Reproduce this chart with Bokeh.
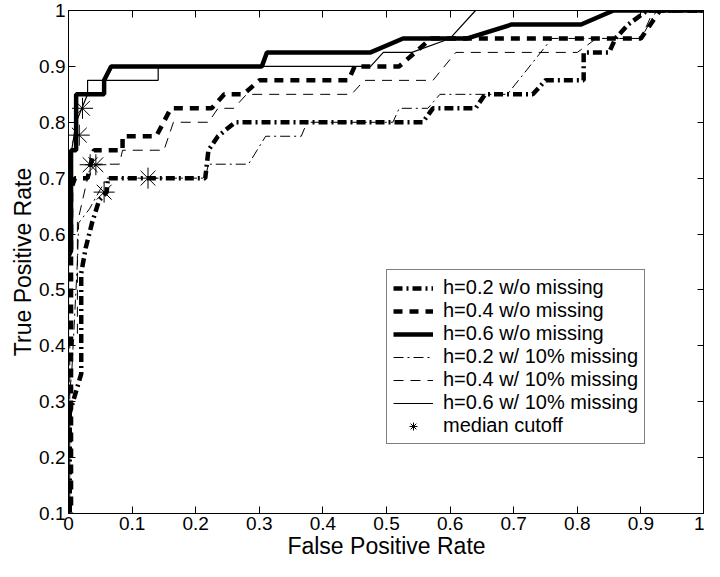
from bokeh.plotting import figure
from bokeh.models import Range1d, FixedTicker, LinearAxis, Legend, LegendItem
from bokeh.embed import file_html
from bokeh.resources import INLINE

# ---- data ----
X_TICKS = [0, 0.1, 0.2, 0.3, 0.4, 0.5, 0.6, 0.7, 0.8, 0.9, 1]
X_LABELS = ["0", "0.1", "0.2", "0.3", "0.4", "0.5", "0.6", "0.7", "0.8", "0.9", "1"]
Y_TICKS = [0.1, 0.2, 0.3, 0.4, 0.5, 0.6, 0.7, 0.8, 0.9, 1]
Y_LABELS = ["0.1", "0.2", "0.3", "0.4", "0.5", "0.6", "0.7", "0.8", "0.9", "1"]

h02_wo_fpr = [0.002, 0.002, 0.02, 0.02, 0.027, 0.037, 0.048, 0.06, 0.062, 0.215, 0.22, 0.235, 0.262,
              0.557, 0.573, 0.64, 0.655, 0.73, 0.75, 0.81, 0.81, 0.85, 0.86, 0.88, 0.91, 1.0]
h02_wo_tpr = [0.0, 0.28, 0.35, 0.53, 0.575, 0.62, 0.66, 0.675, 0.7, 0.7, 0.75, 0.775, 0.8,
              0.8, 0.825, 0.825, 0.85, 0.85, 0.875, 0.875, 0.925, 0.925, 0.95, 0.975, 1.0, 1.0]

h04_wo_fpr = [0.004, 0.004, 0.01, 0.03, 0.04, 0.085, 0.085, 0.138, 0.161, 0.225, 0.245, 0.275, 0.30,
              0.44, 0.45, 0.52, 0.57, 0.90, 0.93, 1.0]
h04_wo_tpr = [0.0, 0.68, 0.7, 0.7, 0.75, 0.75, 0.775, 0.775, 0.825, 0.825, 0.85, 0.85, 0.875,
              0.875, 0.9, 0.9, 0.95, 0.95, 1.0, 1.0]

h06_wo_fpr = [0.0, 0.004, 0.004, 0.012, 0.012, 0.056, 0.056, 0.067, 0.304, 0.312, 0.475, 0.526,
              0.627, 0.697, 0.806, 0.857, 1.0]
h06_wo_tpr = [0.56, 0.57, 0.75, 0.75, 0.85, 0.85, 0.875, 0.9, 0.9, 0.925, 0.925, 0.95,
              0.95, 0.975, 0.975, 1.0, 1.0]

h02_w_fpr = [0.0, 0.0, 0.005, 0.014, 0.016, 0.033, 0.05, 0.06, 0.215, 0.22, 0.283, 0.31, 0.366,
             0.375, 0.51, 0.52, 0.565, 0.584, 0.69, 0.76, 0.90, 0.925, 1.0]
h02_w_tpr = [0.0, 0.3, 0.35, 0.55, 0.62, 0.645, 0.68, 0.7, 0.7, 0.725, 0.725, 0.775, 0.775,
             0.8, 0.8, 0.825, 0.825, 0.85, 0.85, 0.95, 0.95, 1.0, 1.0]

h04_w_fpr = [0.002, 0.002, 0.014, 0.014, 0.03, 0.043, 0.08, 0.085, 0.15, 0.165, 0.22, 0.235, 0.26,
             0.28, 0.445, 0.465, 0.573, 0.609, 0.80, 0.83, 0.90, 0.92, 1.0]
h04_w_tpr = [0.0, 0.4, 0.42, 0.62, 0.7, 0.725, 0.725, 0.75, 0.75, 0.8, 0.8, 0.825, 0.825,
             0.85, 0.85, 0.875, 0.875, 0.925, 0.925, 0.95, 0.95, 1.0, 1.0]

h06_w_fpr = [0.0, 0.0, 0.005, 0.012, 0.03, 0.03, 0.141, 0.141, 0.475, 0.495, 0.54, 0.60, 0.64, 1.0]
h06_w_tpr = [0.0, 0.57, 0.75, 0.80, 0.85, 0.875, 0.875, 0.9, 0.9, 0.925, 0.925, 0.95, 1.0, 1.0]

median_fpr = [0.017, 0.022, 0.034, 0.043, 0.056, 0.125]
median_tpr = [0.777, 0.825, 0.724, 0.724, 0.675, 0.70]

FONT = "Liberation Sans"

p = figure(width=704, height=561, x_range=Range1d(0, 1), y_range=Range1d(0.1, 1),
           output_backend="svg", toolbar_location=None,
           min_border_left=68, min_border_right=0, min_border_top=10, min_border_bottom=48)
p.grid.visible = False
p.outline_line_color = "black"
p.outline_line_width = 1
p.background_fill_color = "white"
p.border_fill_color = "white"

def style_axis(ax, ticks, labels, show_labels=True):
    ax.ticker = FixedTicker(ticks=ticks)
    ax.major_label_overrides = {t: l for t, l in zip(ticks, labels)}
    ax.major_tick_in = 7
    ax.major_tick_out = 0
    ax.minor_tick_line_color = None
    ax.axis_line_color = "black"
    ax.major_tick_line_color = "black"
    if show_labels:
        ax.major_label_text_font = FONT
        ax.major_label_text_font_size = "19px"
        ax.major_label_text_color = "black"
        ax.major_label_standoff = 3
        ax.axis_label_text_font = FONT
        ax.axis_label_text_font_size = "23px"
        ax.axis_label_text_font_style = "normal"
        ax.axis_label_text_color = "black"
        ax.axis_label_standoff = 0
    else:
        ax.major_label_text_font_size = "0px"
        ax.major_label_standoff = 0

style_axis(p.xaxis[0], X_TICKS, X_LABELS)
style_axis(p.yaxis[0], Y_TICKS, Y_LABELS)
p.xaxis.axis_label = "False Positive Rate"
p.yaxis.axis_label = "True Positive Rate"

top = LinearAxis()
style_axis(top, X_TICKS, X_LABELS, show_labels=False)
p.add_layout(top, "above")
right = LinearAxis()
style_axis(right, Y_TICKS, Y_LABELS, show_labels=False)
p.add_layout(right, "right")

r1 = p.line(h02_wo_fpr, h02_wo_tpr, line_color="black", line_width=4.5, line_dash="9 4 2 4")
r2 = p.line(h04_wo_fpr, h04_wo_tpr, line_color="black", line_width=4.5, line_dash="9 7")
r3 = p.line(h06_wo_fpr, h06_wo_tpr, line_color="black", line_width=4.5)
r4 = p.line(h02_w_fpr, h02_w_tpr, line_color="black", line_width=1, line_dash="10 4 2 4")
r5 = p.line(h04_w_fpr, h04_w_tpr, line_color="black", line_width=1, line_dash="10 7")
r6 = p.line(h06_w_fpr, h06_w_tpr, line_color="black", line_width=1.2)
r7 = p.scatter(median_fpr, median_tpr, marker="asterisk", size=21, line_color="black", line_width=1)

legend = Legend(items=[
    LegendItem(label="h=0.2 w/o missing", renderers=[r1]),
    LegendItem(label="h=0.4 w/o missing", renderers=[r2]),
    LegendItem(label="h=0.6 w/o missing", renderers=[r3]),
    LegendItem(label="h=0.2 w/ 10% missing", renderers=[r4]),
    LegendItem(label="h=0.4 w/ 10% missing", renderers=[r5]),
    LegendItem(label="h=0.6 w/ 10% missing", renderers=[r6]),
    LegendItem(label="median cutoff", renderers=[r7]),
], location=(318, 69))
legend.label_text_font = FONT
legend.label_text_font_size = "20px"
legend.label_text_color = "black"
legend.glyph_width = 40
legend.glyph_height = 20
legend.label_height = 20
legend.spacing = 0
legend.padding = 6
legend.margin = 0
legend.label_standoff = 10
legend.border_line_color = "black"
legend.border_line_width = 1
legend.background_fill_color = "white"
legend.background_fill_alpha = 1
p.add_layout(legend, "center")

open("out.html", "w").write(file_html(p, INLINE))
